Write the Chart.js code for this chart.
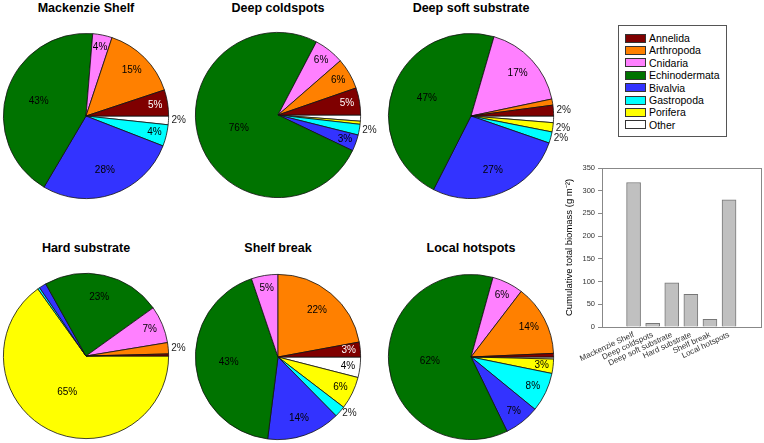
<!DOCTYPE html>
<html>
<head>
<meta charset="utf-8">
<script src="https://cdn.jsdelivr.net/npm/chart.js@4.4.1/dist/chart.umd.min.js"></script>
<style>
  body { margin: 0; background: #fff; font-family: Arial, "Liberation Sans", sans-serif; }
  #wrap { position: relative; width: 764px; height: 443px; overflow: hidden; }
  canvas { position: absolute; }
  .ttl { position: absolute; width: 200px; margin-left: -100px; text-align: center; font-weight: bold; font-size: 12.5px; line-height: 16px; color: #000; }
  #legend { position: absolute; left: 618px; top: 25px; width: 109px; height: 112px; border: 1px solid #555; box-sizing: border-box; background: #fff; }
  .item { position: absolute; left: 6px; height: 12px; font-size: 10.5px; line-height: 12px; color: #000; white-space: nowrap; }
  .sw { position: absolute; left: 0; top: 1.5px; width: 19px; height: 7px; border: 1px solid #333; }
  .item span { position: absolute; left: 24px; top: 0; }
</style>
</head>
<body>
<div id="wrap"></div>
<script>
const groups = ["Annelida", "Arthropoda", "Cnidaria", "Echinodermata", "Bivalvia", "Gastropoda", "Porifera", "Other"];
const habitats = ["Mackenzie Shelf", "Deep coldspots", "Deep soft substrate", "Hard substrate", "Shelf break", "Local hotspots"];

// percent of biomass per group, same order as groups
const mackenzieShelf = [5.1, 14.8, 3.8, 42.8, 27.6, 4.2, 0, 1.7];
const deepColdspots = [5.3, 6.1, 5.9, 75.6, 3.2, 2.1, 0.6, 1.2];
const deepSoftSubstrate = [2.1, 1.2, 17.2, 47.0, 27.2, 2.2, 1.8, 1.3];
const hardSubstrate = [0.4, 2.2, 7.3, 23.2, 1.4, 0.4, 65.1, 0];
const shelfBreak = [2.9, 22.1, 5.2, 42.8, 14.4, 2.2, 6.4, 4.0];
const localHotspots = [0.7, 13.9, 6.1, 61.5, 6.9, 7.7, 2.8, 0.4];

const totalBiomass = [318, 8, 97, 72, 17, 280];
const biomassTicks = [0, 50, 100, 150, 200, 250, 300, 350];

const groupColors = ["#7f0000", "#ff8000", "#ff80ff", "#007300", "#3333ff", "#00ffff", "#ffff00", "#ffffff"];
const groupTextColors = ["#fff", "#000", "#000", "#000", "#000", "#000", "#000", "#000"];

const FONT = 'Arial, "Liberation Sans", sans-serif';
const wrap = document.getElementById("wrap");

const pieSets = [mackenzieShelf, deepColdspots, deepSoftSubstrate, hardSubstrate, shelfBreak, localHotspots];
const pieCenters = [[86, 116], [278, 115], [471, 116], [86, 356], [278, 357], [471, 357]];
const titleTops = [0, 0, 0, 240, 240, 240];

const sliceLabels = {
  id: "sliceLabels",
  afterDatasetsDraw(chart) {
    const ctx = chart.ctx;
    const meta = chart.getDatasetMeta(0);
    const vals = chart.data.datasets[0].data;
    const total = vals.reduce((a, b) => a + b, 0);
    ctx.save();
    ctx.font = "10px " + FONT;
    ctx.textBaseline = "middle";
    meta.data.forEach((arc, i) => {
      const pct = Math.round(vals[i] / total * 100);
      if (pct < 2) return;
      const p = arc.getProps(["x", "y", "startAngle", "endAngle", "outerRadius"], true);
      const mid = (p.startAngle + p.endAngle) / 2;
      const c = Math.cos(mid), s = Math.sin(mid);
      let rr;
      if (pct >= 3) {
        rr = p.outerRadius * Math.max(0.5, 0.88 - 0.0065 * pct);
        ctx.textAlign = "center";
        ctx.fillStyle = chart.data.datasets[0].textColors[i];
      } else {
        rr = p.outerRadius + 3;
        ctx.textAlign = c >= 0 ? "left" : "right";
        ctx.fillStyle = "#222";
      }
      ctx.fillText(pct + "%", p.x + c * rr, p.y + s * rr);
    });
    ctx.restore();
  }
};

pieSets.forEach((vals, k) => {
  const [cx, cy] = pieCenters[k];
  const t = document.createElement("div");
  t.className = "ttl";
  t.style.left = cx + "px";
  t.style.top = titleTops[k] + "px";
  t.textContent = habitats[k];
  wrap.appendChild(t);

  const cv = document.createElement("canvas");
  cv.width = 230; cv.height = 180;
  cv.style.left = (cx - 90) + "px";
  cv.style.top = (cy - 90) + "px";
  wrap.appendChild(cv);

  // slices run counter-clockwise from 3 o'clock, so feed them reversed
  new Chart(cv, {
    type: "pie",
    data: {
      labels: groups.slice().reverse(),
      datasets: [{
        data: vals.slice().reverse(),
        backgroundColor: groupColors.slice().reverse(),
        textColors: groupTextColors.slice().reverse(),
        borderColor: "#111",
        borderWidth: 0.8
      }]
    },
    options: {
      responsive: false,
      animation: false,
      rotation: 90,
      layout: { padding: { left: 7, right: 57, top: 7, bottom: 7 } },
      plugins: { legend: { display: false }, tooltip: { enabled: false } }
    },
    plugins: [sliceLabels]
  });
});

// legend box
const leg = document.createElement("div");
leg.id = "legend";
groups.forEach((g, i) => {
  const it = document.createElement("div");
  it.className = "item";
  it.style.top = (6 + i * 12.4) + "px";
  it.innerHTML = '<div class="sw" style="background:' + groupColors[i] + '"></div><span>' + g + "</span>";
  leg.appendChild(it);
});
wrap.appendChild(leg);

// bar chart
const frame = {
  id: "frame",
  afterDraw(chart) {
    const a = chart.chartArea, ctx = chart.ctx;
    ctx.save();
    ctx.strokeStyle = "#888";
    ctx.lineWidth = 1;
    ctx.strokeRect(Math.round(a.left) + 0.5, Math.round(a.top) + 0.5, Math.round(a.right - a.left), Math.round(a.bottom - a.top));
    ctx.restore();
  }
};

const bc = document.createElement("canvas");
bc.id = "bars";
bc.width = 212; bc.height = 285;
bc.style.left = "552px";
bc.style.top = "158px";
wrap.appendChild(bc);

new Chart(bc, {
  type: "bar",
  data: {
    datasets: [{
      data: totalBiomass.map((v, i) => ({ x: i, y: v })),
      backgroundColor: "#c0c0c0",
      borderColor: "#777",
      borderWidth: 1,
      barThickness: 14
    }]
  },
  options: {
    responsive: false,
    animation: false,
    layout: { padding: { top: 10, right: 3, left: 3, bottom: 0 } },
    plugins: { legend: { display: false }, tooltip: { enabled: false } },
    scales: {
      x: {
        type: "linear",
        min: -0.96,
        max: 5.98,
        afterBuildTicks: (axis) => { axis.ticks = habitats.map((h, i) => ({ value: i })); },
        afterFit: (axis) => { axis.height = 116; },
        grid: { display: false, drawTicks: false },
        border: { color: "#888" },
        ticks: {
          autoSkip: false,
          minRotation: 25,
          maxRotation: 25,
          padding: 3,
          color: "#333",
          font: { family: FONT, size: 8 },
          callback: (v) => habitats[v]
        }
      },
      y: {
        min: 0,
        max: 350,
        afterBuildTicks: (axis) => { axis.ticks = biomassTicks.map(v => ({ value: v })); },
        afterFit: (axis) => { axis.width = 47; },
        grid: { drawOnChartArea: false, drawTicks: true, tickLength: 4, color: "#888" },
        border: { color: "#888" },
        ticks: { padding: 3, color: "#333", font: { family: FONT, size: 7.5 } },
        title: {
          display: true,
          text: "Cumulative total biomass (g m\u207B\u00B2)",
          color: "#000",
          font: { family: FONT, size: 9.5 },
          padding: { top: 9, bottom: 0 }
        }
      }
    }
  },
  plugins: [frame]
});
</script>
</body>
</html>
